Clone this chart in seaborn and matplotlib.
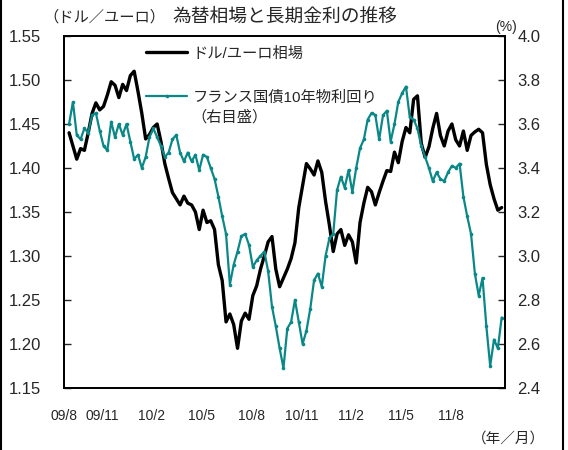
import numpy as np
import pandas as pd
import matplotlib
matplotlib.use('Agg')
import matplotlib.pyplot as plt
from matplotlib.lines import Line2D
import seaborn as sns

# 週次で読み取った値（2009/8/3 から7日ごと）
usd_eur = [1.440, 1.425, 1.410, 1.422, 1.420, 1.440, 1.462, 1.474, 1.466, 1.470,
           1.483, 1.498, 1.494, 1.480, 1.495, 1.488, 1.505, 1.510, 1.487, 1.462,
           1.433, 1.438, 1.446, 1.450, 1.430, 1.405, 1.388, 1.372, 1.365, 1.358,
           1.368, 1.360, 1.358, 1.350, 1.330, 1.352, 1.338, 1.340, 1.330, 1.290,
           1.272, 1.225, 1.234, 1.222, 1.195, 1.226, 1.235, 1.228, 1.255, 1.266,
           1.285, 1.300, 1.316, 1.322, 1.285, 1.265, 1.275, 1.285, 1.297, 1.315,
           1.355, 1.380, 1.405, 1.399, 1.392, 1.408, 1.395, 1.362, 1.335, 1.305,
           1.325, 1.330, 1.312, 1.324, 1.316, 1.292, 1.338, 1.360, 1.378, 1.373,
           1.358, 1.372, 1.385, 1.397, 1.396, 1.418, 1.406, 1.430, 1.446, 1.440,
           1.478, 1.482, 1.428, 1.412, 1.424, 1.445, 1.462, 1.437, 1.425, 1.442,
           1.450, 1.432, 1.425, 1.442, 1.420, 1.437, 1.441, 1.444, 1.440, 1.404,
           1.381, 1.365, 1.352, 1.355]

oat_10y = [3.60, 3.70, 3.55, 3.53, 3.58, 3.56, 3.64, 3.65, 3.57, 3.50,
           3.48, 3.61, 3.54, 3.60, 3.55, 3.60, 3.52, 3.44, 3.46, 3.40,
           3.45, 3.54, 3.58, 3.54, 3.50, 3.45, 3.47, 3.53, 3.55, 3.47,
           3.43, 3.47, 3.43, 3.46, 3.39, 3.46, 3.45, 3.40, 3.35, 3.27,
           3.18, 3.10, 2.87, 2.96, 3.02, 3.09, 3.10, 3.05, 2.95, 2.98,
           3.00, 3.02, 2.93, 2.77, 2.68, 2.58, 2.49, 2.67, 2.70, 2.80,
           2.70, 2.60, 2.66, 2.76, 2.89, 2.92, 2.86, 3.00, 3.08, 3.10,
           3.30, 3.36, 3.31, 3.39, 3.29, 3.40, 3.49, 3.53, 3.62, 3.65,
           3.64, 3.53, 3.64, 3.66, 3.52, 3.60, 3.70, 3.74, 3.77, 3.63,
           3.62, 3.58, 3.50, 3.45, 3.40, 3.34, 3.38, 3.35, 3.34, 3.38,
           3.41, 3.40, 3.42, 3.27, 3.18, 3.10, 2.92, 2.82, 2.90, 2.68,
           2.50, 2.62, 2.58, 2.72]

dates = pd.date_range('2009-08-03', periods=len(usd_eur), freq='7D')

tick_months = ['2009-11-01', '2010-02-01', '2010-05-01', '2010-08-01',
               '2010-11-01', '2011-02-01', '2011-05-01', '2011-08-01']
label_pos = ['2009-07-24', '2009-10-02', '2010-01-01', '2010-04-02', '2010-07-02',
             '2010-10-02', '2011-01-01', '2011-04-02', '2011-07-02']
tick_labels = ['09/8', '09/11', '10/2', '10/5', '10/8', '10/11', '11/2', '11/5', '11/8']
left_ticks = [1.15, 1.20, 1.25, 1.30, 1.35, 1.40, 1.45, 1.50, 1.55]
right_ticks = [2.4, 2.6, 2.8, 3.0, 3.2, 3.4, 3.6, 3.8, 4.0]

df = pd.DataFrame({'date': dates, 'fx': usd_eur, 'oat': oat_10y})

sns.set_style('white')
plt.rcParams['font.family'] = ['Liberation Sans', 'Noto Sans CJK JP']

teal = '#0a8787'
fig = plt.figure(figsize=(5.68, 4.5), dpi=100)
ax = fig.add_axes([0.112, 0.138, 0.777, 0.782])
ax2 = ax.twinx()

sns.lineplot(data=df, x='date', y='fx', ax=ax, color='black', lw=2.4)
sns.lineplot(data=df, x='date', y='oat', ax=ax2, color=teal, lw=1.6,
             marker='o', markersize=2.6, markeredgewidth=0)

ax.set_xlim(pd.Timestamp('2009-08-01'), pd.Timestamp('2011-10-09'))
ax.set_ylim(1.15, 1.55)
ax2.set_ylim(2.4, 4.0)
ax.set_xlabel('')
ax.set_ylabel('')
ax2.set_ylabel('')

ax.set_xticks(pd.to_datetime(tick_months))
ax.set_xticklabels([''] * len(tick_months))
ax.set_xticks(pd.to_datetime(label_pos), minor=True)
ax.set_xticklabels(tick_labels, minor=True, fontsize=10)
ax.tick_params(axis='x', which='major', direction='in', length=5, width=1)
ax.tick_params(axis='x', which='minor', length=0, pad=15)

ax.set_yticks(left_ticks)
ax.set_yticklabels([f'{v:.2f}' for v in left_ticks], fontsize=12)
ax.tick_params(axis='y', direction='in', length=5, width=1, pad=16)
ax2.set_yticks(right_ticks)
ax2.set_yticklabels([f'{v:.1f}' for v in right_ticks], fontsize=12)
ax2.tick_params(axis='y', direction='in', length=5, width=1, pad=9)

for a in (ax, ax2):
    for s in a.spines.values():
        s.set_color('black')
        s.set_linewidth(1.3)

handles = [Line2D([], [], color='black', lw=2.4),
           Line2D([], [], color=teal, lw=1.6, marker='o', markersize=2.6, markeredgewidth=0)]
ax2.legend(handles, ['ドル/ユーロ相場', 'フランス国債10年物利回り'],
           loc='upper left', bbox_to_anchor=(0.187, 0.97), frameon=False,
           fontsize=11, handlelength=2.7, handletextpad=0.35,
           labelspacing=1.95, borderpad=0, borderaxespad=0)
ax2.text(0.29, 0.768, '（右目盛）', transform=ax2.transAxes, fontsize=11, va='center')

fig.text(0.502, 0.962, '為替相場と長期金利の推移', ha='center', va='center', fontsize=13.5)
fig.text(0.076, 0.962, '（ドル／ユーロ）', ha='left', va='center', fontsize=11)
fig.text(0.89, 0.94, '(%)', ha='center', va='center', fontsize=10)
fig.text(0.96, 0.025, '（年／月）', ha='right', va='center', fontsize=10.5)

fig.add_artist(Line2D([0.002, 0.002], [0, 1], transform=fig.transFigure, color='black', lw=1.5))
fig.add_artist(Line2D([0.992, 0.992], [0, 1], transform=fig.transFigure, color='black', lw=1.5))

fig.savefig('out.png', dpi=100)
